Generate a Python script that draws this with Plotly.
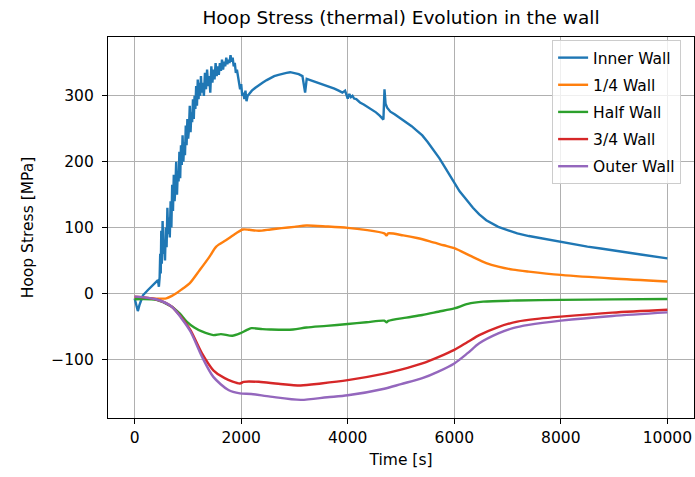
import plotly.graph_objects as go

# Time samples [s] and hoop stress [MPa] for each radial position in the wall
inner_t = [0, 30, 60, 90, 156, 250, 343, 437, 455, 470, 480, 490, 500, 510, 525, 540, 555, 570,
           585, 600, 615, 630, 645, 660, 675, 690, 705, 720, 735, 750, 765, 780, 795, 810, 825,
           840, 855, 870, 885, 900, 915, 930, 945, 960, 975, 990, 1005, 1020, 1035, 1050, 1065,
           1080, 1095, 1110, 1125, 1140, 1155, 1170, 1185, 1200, 1215, 1230, 1245, 1260, 1280,
           1300, 1320, 1340, 1360, 1380, 1400, 1420, 1440, 1460, 1480, 1500, 1520, 1540, 1560,
           1580, 1600, 1620, 1640, 1660, 1680, 1700, 1720, 1740, 1760, 1780, 1800, 1820, 1840,
           1860, 1880, 1900, 1920, 1940, 1960, 1980, 2000, 2020, 2040, 2060, 2080, 2100, 2120,
           2150, 2200, 2260, 2320, 2400, 2480, 2550, 2620, 2700, 2780, 2850, 2920, 3000, 3080,
           3150, 3180, 3200, 3230, 3300, 3380, 3450, 3530, 3600, 3680, 3750, 3830, 3900, 3950,
           3975, 4000, 4030, 4060, 4090, 4120, 4160, 4230, 4300, 4380, 4450, 4530, 4600, 4650,
           4670, 4690, 4710, 4740, 4800, 4880, 4950, 5030, 5100, 5200, 5285, 5400, 5500, 5610,
           5722, 5820, 5900, 6000, 6100, 6180, 6255, 6350, 6469, 6600, 6826, 7000, 7183, 7400,
           7600, 7800, 8003, 8250, 8500, 8750, 8966, 9250, 9500, 9750, 10000]
inner_s = [-8, -20, -27, -18, -3, 5, 13, 20, 10, 25, 60, 30, 95, 45, 110, 60, 75, 50,
           100, 70, 130, 90, 115, 85, 140, 100, 165, 125, 180, 140, 160, 200, 150, 185, 170,
           215, 175, 225, 195, 240, 200, 230, 210, 255, 225, 265, 235, 250, 285, 245, 275,
           260, 295, 265, 300, 280, 315, 285, 325, 295, 320, 300, 330, 305, 320,
           300, 335, 310, 340, 315, 330, 305, 345, 320, 340, 325, 350, 330, 345,
           332, 350, 338, 355, 340, 352, 345, 358, 348, 355, 350, 362, 352, 358,
           345, 350, 335, 340, 325, 320, 310, 318, 300, 305, 295, 308, 292, 300,
           303, 308, 312, 316, 320, 324, 327, 330, 332, 334, 335, 336, 335, 333,
           330, 318, 305, 326, 324, 322, 320, 318, 316, 313, 311, 308, 305, 308,
           303, 296, 303, 298, 300, 296, 295, 290, 287, 283, 280, 275, 270, 266,
           264, 310, 288, 282, 276, 272, 268, 264, 260, 254, 248, 240, 230, 218,
           205, 192, 181, 168, 155, 147, 139, 130, 120, 111, 101, 96, 91, 87,
           84, 81, 78, 74, 71, 68, 65, 62, 59, 56, 53]

quarter_t = [0, 300, 595, 700, 782, 900, 1032, 1219, 1400, 1532, 1720, 1900, 2032, 2154, 2332,
             2550, 2760, 3000, 3224, 3616, 4000, 4330, 4686, 4730, 4760, 5043, 5300, 5542, 5800,
             6000, 6327, 6600, 6826, 7100, 7397, 8000, 8966, 10000]
quarter_s = [-8, -8, -7.6, -4, 0, 7, 15, 35, 55, 71, 81, 91, 97, 96.5, 95,
             97, 99, 101, 103, 101.5, 99.5, 96.4, 91, 88, 91, 88, 84, 79, 73,
             68.5, 56, 46, 40.6, 36, 33, 28, 22.5, 18]

half_t = [0, 407, 692, 850, 977, 1120, 1262, 1477, 1619, 1833, 1976, 2100, 2190, 2400, 2546,
          2974, 3224, 3600, 4000, 4350, 4686, 4730, 4760, 5100, 5400, 5700, 6000, 6255, 6541,
          7183, 8000, 9000, 10000]
half_s = [-9, -10, -20, -31, -43, -52, -58, -63.5, -62, -64.5, -61, -56, -53, -54.5, -55,
          -55, -52, -49.5, -46.7, -44, -41.6, -44, -42, -37, -33, -28, -23, -16, -12.7,
          -11, -10, -9.2, -8.6]

three_q_t = [0, 400, 692, 870, 1048, 1262, 1477, 1690, 1976, 2047, 2332, 2700, 3117, 3500, 4000,
             4686, 5000, 5400, 5700, 6000, 6250, 6469, 6800, 7183, 7600, 8000, 8966, 10000]
three_q_s = [-5, -9, -20, -36, -56, -91, -117, -129, -137, -134.5, -134.5, -137.5, -140, -137, -132,
             -122, -116, -106.6, -97, -86, -74, -63.5, -52, -43, -38.5, -35.5, -29.4, -25]

outer_t = [0, 400, 692, 870, 1048, 1262, 1477, 1761, 1976, 2190, 2546, 3117, 3616, 4000, 4686,
           5000, 5400, 5700, 6000, 6250, 6469, 6826, 7100, 7397, 8000, 8966, 10000]
outer_s = [-5, -9, -20, -37, -58, -96, -127, -147, -152, -153, -157, -162, -158, -155, -145,
           -138, -129, -119, -106.6, -91, -76, -61, -53, -48, -41.6, -34.5, -29]

series = [
    ("Inner Wall", inner_t, inner_s, "#1f77b4", "linear"),
    ("1/4 Wall", quarter_t, quarter_s, "#ff7f0e", "spline"),
    ("Half Wall", half_t, half_s, "#2ca02c", "spline"),
    ("3/4 Wall", three_q_t, three_q_s, "#d62728", "spline"),
    ("Outer Wall", outer_t, outer_s, "#9467bd", "spline"),
]

x_ticks = [0, 2000, 4000, 6000, 8000, 10000]
y_ticks = [-100, 0, 100, 200, 300]

FONT = "DejaVu Sans"

fig = go.Figure()
for name, t, s, color, shape in series:
    fig.add_trace(go.Scatter(x=t, y=s, mode="lines", name=name, legendgroup=name,
                             line=dict(color=color, width=2.4, shape=shape, smoothing=0.8)))

axis_style = dict(
    showline=True, mirror=True, linecolor="black", linewidth=1.2,
    ticks="outside", ticklen=5, tickcolor="black", tickwidth=1.2,
    showgrid=True, gridcolor="#b0b0b0", gridwidth=1.1, zeroline=False,
    tickfont=dict(family=FONT, size=15.5, color="black"),
)

fig.update_xaxes(range=[-500, 10500], tickvals=x_ticks, ticktext=[str(v) for v in x_ticks],
                 title=dict(text="Time [s]", font=dict(family=FONT, size=15.5, color="black"),
                            standoff=8),
                 **axis_style)
fig.update_yaxes(range=[-189.5, 389.5], tickvals=y_ticks, ticktext=[f"{v:d}".replace("-", "\u2212") for v in y_ticks],
                 ticklabelstandoff=5,
                 title=dict(text="Hoop Stress [MPa]", font=dict(family=FONT, size=15.5, color="black"),
                            standoff=13),
                 **axis_style)

fig.update_layout(
    width=695, height=477,
    margin=dict(l=108, r=1, t=37, b=59),
    paper_bgcolor="white", plot_bgcolor="white",
    title=dict(text="Hoop Stress (thermal) Evolution in the wall",
               font=dict(family=FONT, size=18.5, color="black"),
               x=0.5, xref="paper", xanchor="center", y=1 - 18 / 477, yanchor="middle"),
    legend=dict(x=0.978, y=0.992, xanchor="right", yanchor="top", tracegroupgap=4,
                entrywidth=100,
                bgcolor="rgba(255,255,255,0.8)", bordercolor="#cccccc", borderwidth=1,
                font=dict(family=FONT, size=15.5, color="black")),
    font=dict(family=FONT),
    showlegend=True,
)

fig.write_html("out.html")
